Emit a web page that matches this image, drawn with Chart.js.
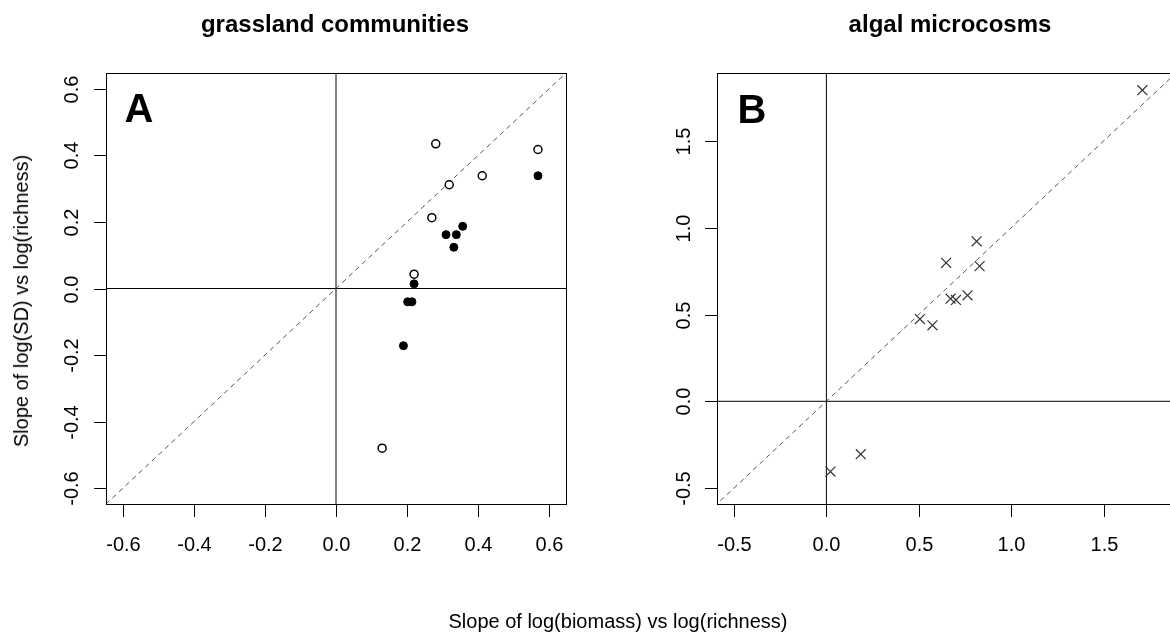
<!DOCTYPE html>
<html>
<head>
<meta charset="utf-8">
<script src="https://cdn.jsdelivr.net/npm/chart.js@4"></script>
<style>
  html, body { margin: 0; padding: 0; width: 1170px; height: 635px; overflow: hidden; background: #fff; }
  body { position: relative; font-family: 'Liberation Sans', Arial, sans-serif; color: #000; }
  canvas { position: absolute; top: 0; }
  .lbl { position: absolute; white-space: nowrap; line-height: 1; transform: translate(-50%, -50%); }
  .title { font-size: 24px; font-weight: bold; }
  .letter { font-size: 40px; font-weight: bold; }
  .axis { font-size: 20px; }
</style>
</head>
<body>
<canvas id="chartA" width="600" height="635" style="left:0"></canvas>
<canvas id="chartB" width="600" height="635" style="left:600px"></canvas>

<div class="lbl title" style="left:335px; top:24px">grassland communities</div>
<div class="lbl title" style="left:950px; top:24px">algal microcosms</div>
<div class="lbl letter" style="left:139px; top:108px">A</div>
<div class="lbl letter" style="left:752px; top:109px">B</div>
<div class="lbl axis" style="left:618px; top:621px">Slope of log(biomass) vs log(richness)</div>
<div class="lbl axis" style="left:21px; top:301px; transform: translate(-50%, -50%) rotate(-90deg)">Slope of log(SD) vs log(richness)</div>

<script>
// panel A: grassland communities
const grassOpenX = [0.281, 0.569, 0.412, 0.319, 0.270, 0.220, 0.130];
const grassOpenY = [0.435, 0.418, 0.339, 0.312, 0.213, 0.043, -0.480];
const grassFilledX = [0.569, 0.357, 0.310, 0.339, 0.332, 0.220, 0.202, 0.214, 0.190];
const grassFilledY = [0.339, 0.187, 0.162, 0.162, 0.124, 0.014, -0.040, -0.040, -0.172];

// panel B: algal microcosms
const algalX = [1.710, 0.813, 0.648, 0.829, 0.764, 0.672, 0.701, 0.506, 0.574, 0.186, 0.022];
const algalY = [1.793, 0.922, 0.798, 0.779, 0.611, 0.591, 0.584, 0.474, 0.438, -0.305, -0.405];

// tick labels
const ticksA = [-0.6, -0.4, -0.2, 0.0, 0.2, 0.4, 0.6];
const ticksB = [-0.5, 0.0, 0.5, 1.0, 1.5];

// ends of the reference lines (y = x, x = 0, y = 0)
const refEnds = [-1, 2];

const FONT = "'Liberation Sans', Arial, sans-serif";

function toPoints(xs, ys) {
  return xs.map((x, i) => ({ x: x, y: ys[i] }));
}

function refLines() {
  return [
    {
      data: refEnds.map(v => ({ x: v, y: v })),
      showLine: true, pointRadius: 0, borderColor: '#555', borderWidth: 1,
      borderDash: [5, 4], clip: 0
    },
    {
      data: refEnds.map(v => ({ x: 0, y: v })),
      showLine: true, pointRadius: 0, borderColor: '#000', borderWidth: 1, clip: 0
    },
    {
      data: refEnds.map(v => ({ x: v, y: 0 })),
      showLine: true, pointRadius: 0, borderColor: '#000', borderWidth: 1, clip: 0
    }
  ];
}

// draws the R-style box, outward ticks and rotated y labels
const framePlugin = {
  id: 'frame',
  afterDraw(chart, args, opts) {
    const { ctx, chartArea: a, scales: { x, y } } = chart;
    ctx.save();
    ctx.strokeStyle = '#000';
    ctx.lineWidth = 1;
    ctx.strokeRect(a.left + 0.5, a.top + 0.5, a.right - a.left, a.bottom - a.top);

    ctx.fillStyle = '#000';
    ctx.font = '20px ' + FONT;
    ctx.textAlign = 'center';
    ctx.textBaseline = 'middle';

    opts.ticks.forEach(v => {
      const px = Math.round(x.getPixelForValue(v)) + 0.5;
      ctx.beginPath();
      ctx.moveTo(px, a.bottom);
      ctx.lineTo(px, a.bottom + 13);
      ctx.stroke();
      ctx.fillText(v.toFixed(1), px, a.bottom + 41);
    });

    opts.ticks.forEach(v => {
      const py = Math.round(y.getPixelForValue(v)) + 0.5;
      ctx.beginPath();
      ctx.moveTo(a.left - 12, py);
      ctx.lineTo(a.left, py);
      ctx.stroke();
      ctx.save();
      ctx.translate(a.left - opts.labelOffset, py);
      ctx.rotate(-Math.PI / 2);
      ctx.fillText(v.toFixed(1), 0, 0);
      ctx.restore();
    });
    ctx.restore();
  }
};

function makeChart(id, datasets, lim, ticks, padding, labelOffset) {
  return new Chart(document.getElementById(id), {
    type: 'scatter',
    data: { datasets: datasets },
    options: {
      responsive: false,
      animation: false,
      devicePixelRatio: 1,
      layout: { padding: padding },
      scales: {
        x: { type: 'linear', display: false, min: lim[0], max: lim[1] },
        y: { type: 'linear', display: false, min: lim[0], max: lim[1] }
      },
      plugins: {
        legend: { display: false },
        tooltip: { enabled: false },
        frame: { ticks: ticks, labelOffset: labelOffset }
      },
      events: []
    },
    plugins: [framePlugin]
  });
}

makeChart('chartA', [
  {
    data: toPoints(grassOpenX, grassOpenY),
    pointStyle: 'circle', pointRadius: 4, backgroundColor: '#fff',
    borderColor: '#000', borderWidth: 1.5
  },
  {
    data: toPoints(grassFilledX, grassFilledY),
    pointStyle: 'circle', pointRadius: 4, backgroundColor: '#000',
    borderColor: '#000', borderWidth: 1
  }
].concat(refLines()), [-0.648, 0.648], ticksA,
  { left: 106, top: 73, right: 34, bottom: 131 }, 34);

makeChart('chartB', [
  {
    data: toPoints(algalX, algalY),
    pointStyle: 'crossRot', pointRadius: 7, backgroundColor: '#333',
    borderColor: '#333', borderWidth: 1.2
  }
].concat(refLines()), [-0.592, 1.892], ticksB,
  { left: 117, top: 73, right: 24, bottom: 131 }, 33);
</script>
</body>
</html>
